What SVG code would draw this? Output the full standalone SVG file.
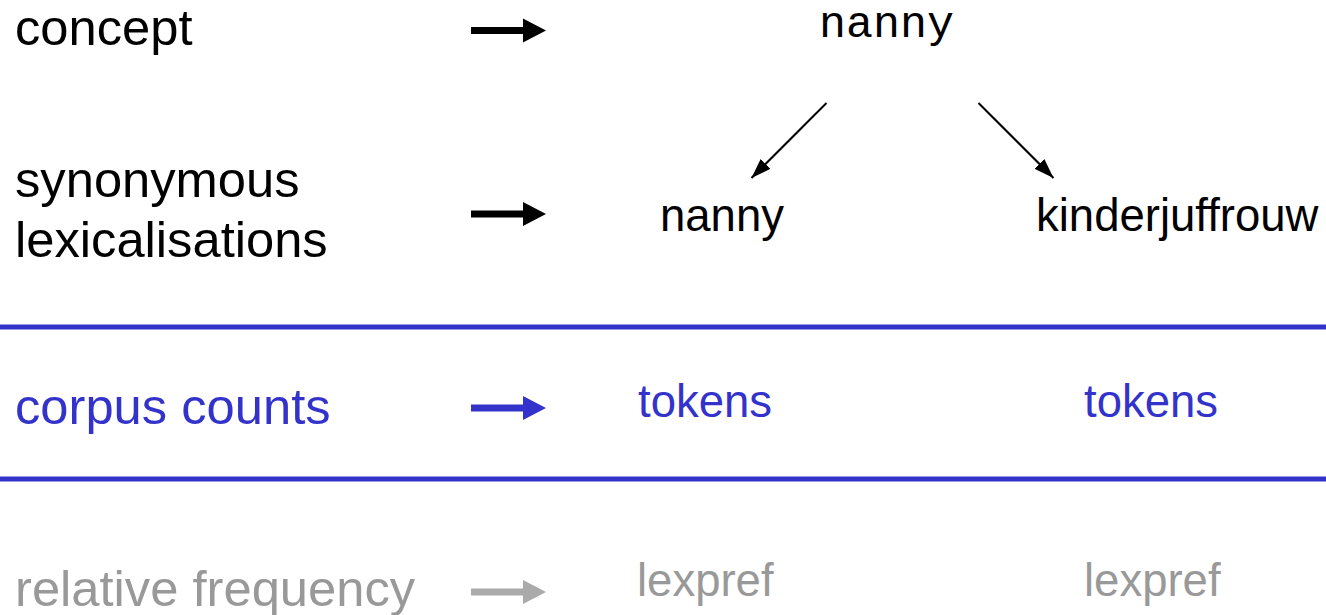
<svg xmlns="http://www.w3.org/2000/svg" width="1326" height="615" viewBox="0 0 1326 615">
  <style>
    .lbl { font-family: "Liberation Sans", Arial, sans-serif; font-size: 50.7px; }
    .word { font-family: "Liberation Sans", Arial, sans-serif; font-size: 45.5px; }
    .mono { font-family: "Liberation Mono", "Courier New", monospace; font-size: 45px; }
    .black { fill: #000000; }
    .blue { fill: #3333cc; }
    .grey { fill: #999999; }
    .rule { stroke: #3333cc; stroke-width: 5; }
    .edge { stroke: #000000; stroke-width: 2; fill: none; marker-end: url(#head); }
  </style>
  <defs>
    <marker id="head" viewBox="0 0 20 14" refX="20" refY="7" markerWidth="20" markerHeight="14" markerUnits="userSpaceOnUse" orient="auto">
      <path d="M0,0 L20,7 L0,14 Z" fill="#000000"/>
    </marker>
    <!-- block arrow pointing right, tip at origin -->
    <path id="blockArrow" d="M-75,-3.5 L-23,-3.5 L-23,-12 L0,0 L-23,12 L-23,3.5 L-75,3.5 Z"/>
  </defs>

  <!-- row labels -->
  <g id="row-concept">
    <text class="lbl black" x="15" y="45">concept</text>
    <use href="#blockArrow" x="546" y="30.5" fill="#000000"/>
  </g>
  <g id="row-lexicalisations">
    <text class="lbl black" x="15" y="197">synonymous</text>
    <text class="lbl black" x="15" y="257">lexicalisations</text>
    <use href="#blockArrow" x="546" y="214" fill="#000000"/>
  </g>
  <g id="row-counts">
    <text class="lbl blue" x="15" y="424">corpus counts</text>
    <use href="#blockArrow" x="546" y="408" fill="#3333cc"/>
  </g>
  <g id="row-frequency">
    <text class="lbl grey" x="15" y="606">relative frequency</text>
    <use href="#blockArrow" x="546" y="592" fill="#aaaaaa"/>
  </g>

  <!-- band separators -->
  <g id="separators">
    <line class="rule" x1="0" y1="327" x2="1326" y2="327"/>
    <line class="rule" x1="0" y1="479" x2="1326" y2="479"/>
  </g>

  <!-- nodes -->
  <g id="node-concept">
    <text class="mono black" x="819" y="37">nanny</text>
  </g>
  <g id="node-nanny">
    <text class="word black" x="660" y="231">nanny</text>
  </g>
  <g id="node-kinderjuffrouw">
    <text class="word black" x="1036" y="231">kinderjuffrouw</text>
  </g>
  <g id="node-tokens-1">
    <text class="word blue" x="638" y="417">tokens</text>
  </g>
  <g id="node-tokens-2">
    <text class="word blue" x="1084" y="417">tokens</text>
  </g>
  <g id="node-lexpref-1">
    <text class="word grey" x="637" y="596">lexpref</text>
  </g>
  <g id="node-lexpref-2">
    <text class="word grey" x="1084" y="596">lexpref</text>
  </g>

  <!-- connectors -->
  <g id="connectors">
    <line class="edge" x1="826.5" y1="103" x2="751.5" y2="178"/>
    <line class="edge" x1="978.5" y1="103" x2="1053.5" y2="178"/>
  </g>
</svg>
